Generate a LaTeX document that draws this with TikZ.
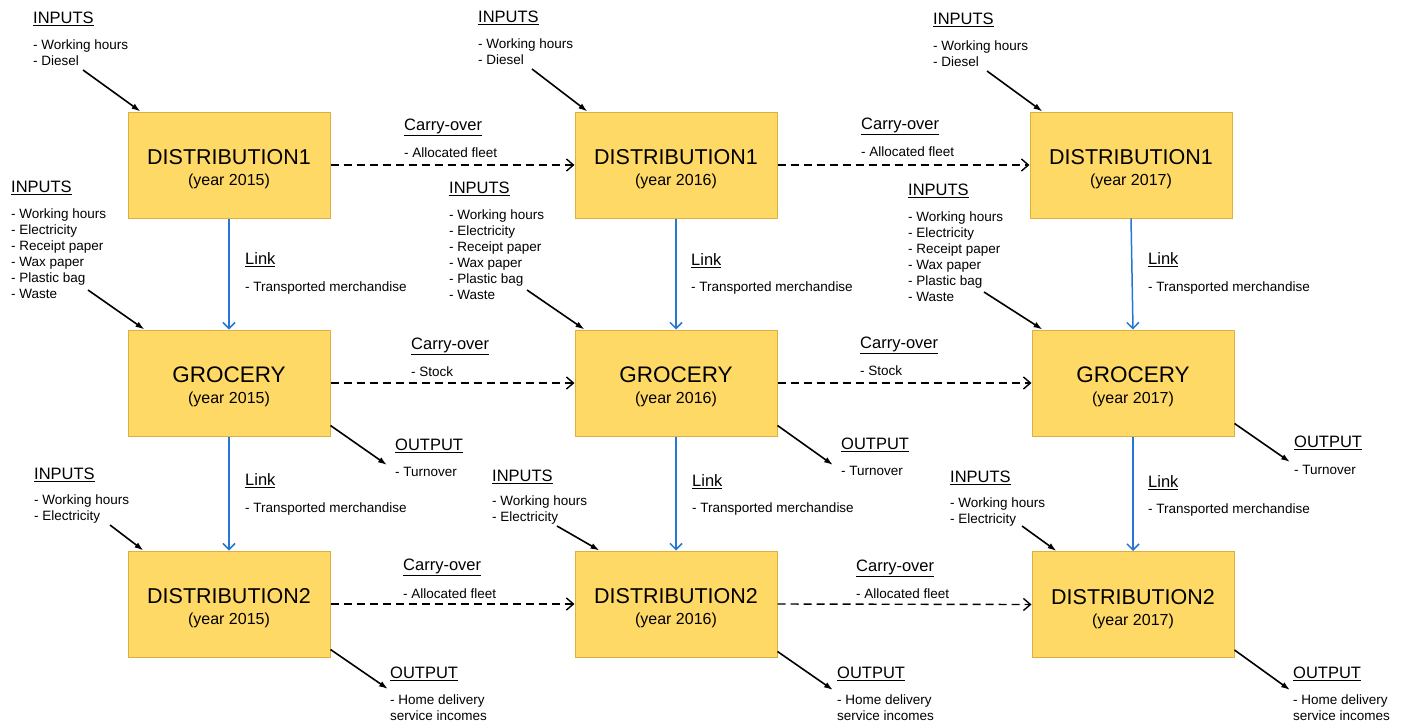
\documentclass[tikz,border=0pt]{standalone}
\usepackage{fontspec}
\setmainfont{Liberation Sans}
\usetikzlibrary{positioning,arrows.meta,calc}

\definecolor{boxfill}{RGB}{255,217,102}
\definecolor{boxline}{RGB}{222,175,60}
\definecolor{linkblue}{RGB}{36,120,212}

\begin{document}
\begin{tikzpicture}[
  x=1pt, y=-1pt,
  unit/.style={draw=boxline, fill=boxfill, line width=1pt,
               minimum width=202pt, minimum height=106pt,
               inner sep=0pt, align=center,
               font=\fontsize{21.5}{22}\selectfont},
  hd/.style={anchor=west, inner sep=0pt, font=\fontsize{16.5}{19}\selectfont},
  lst/.style={anchor=north west, inner sep=0pt, align=left,
              font=\fontsize{13.5}{16}\selectfont},
  inarr/.style={-{Latex[length=9pt,width=6pt]}, line width=1.6pt},
  link/.style={-{Straight Barb[length=6pt,width=12pt]}, line width=1.5pt, linkblue},
  carry/.style={-{Straight Barb[length=7pt,width=12pt]}, line width=1.4pt,
                dash pattern=on 8pt off 5pt},
]
\useasboundingbox (0,0) rectangle (1404,723);

\newcommand{\yrtxt}[1]{\rule{0pt}{23.5pt}\\[-1pt]{\fontsize{16}{18}\selectfont (year #1)}}

% Boxes, one column per year
\node[unit] (d1a) at (229,165) {DISTRIBUTION1\yrtxt{2015}};
\node[unit] (groa) at (229,383) {{\fontsize{22.5}{22}\selectfont GROCERY}\yrtxt{2015}};
\node[unit] (d2a) at (229,604) {DISTRIBUTION2\yrtxt{2015}};

\node[unit] (d1b) at (676,165) {DISTRIBUTION1\yrtxt{2016}};
\node[unit] (grob) at (676,383) {{\fontsize{22.5}{22}\selectfont GROCERY}\yrtxt{2016}};
\node[unit] (d2b) at (676,604) {DISTRIBUTION2\yrtxt{2016}};

\node[unit] (d1c) at (1131,165) {DISTRIBUTION1\yrtxt{2017}};
\node[unit] (groc) at (1133,383) {{\fontsize{22.5}{22}\selectfont GROCERY}\yrtxt{2017}};
\node[unit] (d2c) at (1133,604.5) {DISTRIBUTION2\yrtxt{2017}};

% --- Inputs, year 2015 ---
\node[hd] (inA1h) at (33,19) {\underline{INPUTS}};
\node[lst] (inA1) at (33,40) {- Working hours\\- Diesel};
\node[hd] (inB1h) at (11,188) {\underline{INPUTS}};
\node[lst] (inB1) at (11,209) {- Working hours\\- Electricity\\- Receipt paper\\- Wax paper\\- Plastic bag\\- Waste};
\node[hd] (inC1h) at (34,475) {\underline{INPUTS}};
\node[lst] (inC1) at (34,495) {- Working hours\\- Electricity};

% --- Inputs, year 2016 ---
\node[hd] (inA2h) at (478,18) {\underline{INPUTS}};
\node[lst] (inA2) at (478,39) {- Working hours\\- Diesel};
\node[hd] (inB2h) at (449,189) {\underline{INPUTS}};
\node[lst] (inB2) at (449,210) {- Working hours\\- Electricity\\- Receipt paper\\- Wax paper\\- Plastic bag\\- Waste};
\node[hd] (inC2h) at (492,477) {\underline{INPUTS}};
\node[lst] (inC2) at (492,496) {- Working hours\\- Electricity};

% --- Inputs, year 2017 ---
\node[hd] (inA3h) at (933,20) {\underline{INPUTS}};
\node[lst] (inA3) at (933,41) {- Working hours\\- Diesel};
\node[hd] (inB3h) at (908,191) {\underline{INPUTS}};
\node[lst] (inB3) at (908,212) {- Working hours\\- Electricity\\- Receipt paper\\- Wax paper\\- Plastic bag\\- Waste};
\node[hd] (inC3h) at (950,478) {\underline{INPUTS}};
\node[lst] (inC3) at (950,498) {- Working hours\\- Electricity};

% free ends of the input arrows
\coordinate (sA1) at (83,70);   \coordinate (sB1) at (88,290);   \coordinate (sC1) at (110,525);
\coordinate (sA2) at (532,69);  \coordinate (sB2) at (527,290);  \coordinate (sC2) at (557,526);
\coordinate (sA3) at (987,71);  \coordinate (sB3) at (984,292);  \coordinate (sC3) at (1022,526);

\draw[inarr] (sA1) -- ($(d1a.north west)+(13,0)$);
\draw[inarr] (sB1) -- ($(groa.north west)+(17,0)$);
\draw[inarr] (sC1) -- ($(d2a.north west)+(16,0)$);
\draw[inarr] (sA2) -- ($(d1b.north west)+(13,0)$);
\draw[inarr] (sB2) -- ($(grob.north west)+(10,0)$);
\draw[inarr] (sC2) -- ($(d2b.north west)+(25,0)$);
\draw[inarr] (sA3) -- ($(d1c.north west)+(13,0)$);
\draw[inarr] (sB3) -- ($(groc.north west)+(11,0)$);
\draw[inarr] (sC3) -- ($(d2c.north west)+(25,0)$);

% --- Links (blue) ---
\draw[link] (d1a.south) -- (groa.north);
\draw[link] (groa.south) -- (d2a.north);
\draw[link] (d1b.south) -- (grob.north);
\draw[link] (grob.south) -- (d2b.north);
\draw[link] (d1c.south) -- (groc.north);
\draw[link] (groc.south) -- (d2c.north);

\node[hd] (lkA1h) at (245,260) {\underline{Link}};
\node[lst] (lkA1) at (245,282) {- Transported merchandise};
\node[hd] (lkB1h) at (245,481) {\underline{Link}};
\node[lst] (lkB1) at (245,503) {- Transported merchandise};
\node[hd] (lkA2h) at (691,261) {\underline{Link}};
\node[lst] (lkA2) at (691,282) {- Transported merchandise};
\node[hd] (lkB2h) at (692,482) {\underline{Link}};
\node[lst] (lkB2) at (692,503) {- Transported merchandise};
\node[hd] (lkA3h) at (1148,260) {\underline{Link}};
\node[lst] (lkA3) at (1148,282) {- Transported merchandise};
\node[hd] (lkB3h) at (1148,483) {\underline{Link}};
\node[lst] (lkB3) at (1148,504) {- Transported merchandise};

% --- Carry-over (dashed) ---
\draw[carry] (d1a.east) -- (d1b.west);
\draw[carry] (groa.east) -- (grob.west);
\draw[carry] (d2a.east) -- (d2b.west);
\draw[carry] (d1b.east) -- (d1c.west);
\draw[carry] (grob.east) -- (groc.west);
\draw[carry] (d2b.east) -- (d2c.west);

\node[hd] (coA1h) at (404,127) {\underline{Carry-over}};
\node[lst] (coA1) at (404,148) {- Allocated fleet};
\node[hd] (coB1h) at (411,346) {\underline{Carry-over}};
\node[lst] (coB1) at (411,367) {- Stock};
\node[hd] (coC1h) at (403,567) {\underline{Carry-over}};
\node[lst] (coC1) at (403,589) {- Allocated fleet};
\node[hd] (coA2h) at (861,126) {\underline{Carry-over}};
\node[lst] (coA2) at (861,147) {- Allocated fleet};
\node[hd] (coB2h) at (860,345) {\underline{Carry-over}};
\node[lst] (coB2) at (860,366) {- Stock};
\node[hd] (coC2h) at (856,568) {\underline{Carry-over}};
\node[lst] (coC2) at (856,589) {- Allocated fleet};

% --- Outputs ---
\coordinate (oB1) at (387,465);  \coordinate (oC1) at (388,689);
\coordinate (oB2) at (833,465);  \coordinate (oC2) at (833,690);
\coordinate (oB3) at (1290,462); \coordinate (oC3) at (1290,690);

\draw[inarr] ($(groa.south east)+(0,-11)$) -- (oB1);
\draw[inarr] ($(d2a.south east)+(0,-8)$) -- (oC1);
\draw[inarr] ($(grob.south east)+(0,-11)$) -- (oB2);
\draw[inarr] ($(d2b.south east)+(0,-6)$) -- (oC2);
\draw[inarr] ($(groc.south east)+(0,-13)$) -- (oB3);
\draw[inarr] ($(d2c.south east)+(0,-8)$) -- (oC3);

\node[hd] (otB1h) at (395,446) {\underline{OUTPUT}};
\node[lst] (otB1) at (395,467) {- Turnover};
\node[hd] (otC1h) at (390,674) {\underline{OUTPUT}};
\node[lst] (otC1) at (390,695) {- Home delivery\\service incomes};
\node[hd] (otB2h) at (841,445) {\underline{OUTPUT}};
\node[lst] (otB2) at (841,466) {- Turnover};
\node[hd] (otC2h) at (837,674) {\underline{OUTPUT}};
\node[lst] (otC2) at (837,695) {- Home delivery\\service incomes};
\node[hd] (otB3h) at (1294,443) {\underline{OUTPUT}};
\node[lst] (otB3) at (1294,465) {- Turnover};
\node[hd] (otC3h) at (1293,674) {\underline{OUTPUT}};
\node[lst] (otC3) at (1293,695) {- Home delivery\\service incomes};

\end{tikzpicture}
\end{document}
